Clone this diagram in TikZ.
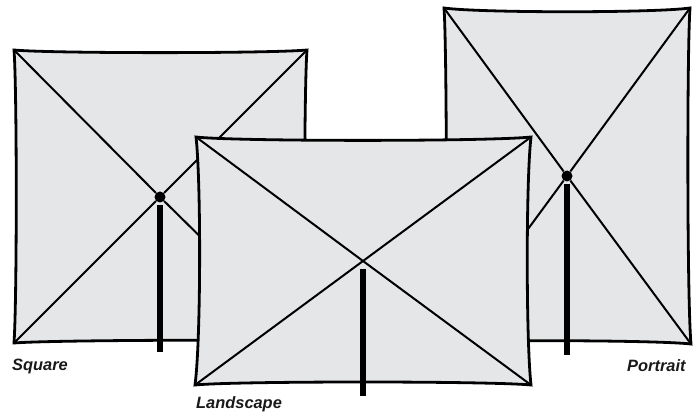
\documentclass[tikz,border=0pt]{standalone}
\usepackage{fontspec}
\setmainfont{Liberation Sans}
\definecolor{canvas}{HTML}{E5E6E8}
\begin{document}
\begin{tikzpicture}[
  x=1pt, y=-1pt,
  canopy/.style={draw=black, line width=2.8pt, fill=canvas, line join=miter},
  rib/.style={draw=black, line width=2pt},
  pole/.style={draw=black, line width=5.5pt},
  hub/.style={circle, fill=black, inner sep=0pt, minimum size=11pt},
  lbl/.style={font=\fontsize{16.4}{18}\selectfont\bfseries\itshape, text=black!90, anchor=base west, inner sep=0pt},
]
\useasboundingbox (0,0) rectangle (699,414);

% Square
\coordinate (s1) at (14,50);
\coordinate (s2) at (307,50);
\coordinate (s3) at (306,341);
\coordinate (s4) at (14,343);
\coordinate (stop) at (160,205);
\coordinate (sfoot) at (160,352);
\draw[canopy] (s1) .. controls (50,53.5) and (270,53.5) .. (s2)
  .. controls (304,90) and (304,300) .. (s3)
  .. controls (270,339.5) and (50,340) .. (s4)
  .. controls (17,300) and (17,90) .. cycle;
\node[hub] (shub) at (160,197) {};
\draw[rib] (s1) -- (shub);
\draw[rib] (s2) -- (shub);
\draw[rib] (s3) -- (shub);
\draw[rib] (s4) -- (shub);
\draw[pole] (stop) -- (sfoot);
\node[lbl] (slbl) at (12,370) {Square};

% Portrait
\coordinate (p1) at (444,8);
\coordinate (p2) at (690,8);
\coordinate (p3) at (691,344);
\coordinate (p4) at (445,342);
\coordinate (ptop) at (567,184);
\coordinate (pfoot) at (567,355);
\draw[canopy] (p1) .. controls (480,13) and (655,13) .. (p2)
  .. controls (687,50) and (687,300) .. (p3)
  .. controls (655,340) and (480,340) .. (p4)
  .. controls (447,300) and (447,50) .. cycle;
\node[hub] (phub) at (567,176) {};
\draw[rib] (p1) -- (phub);
\draw[rib] (p2) -- (phub);
\draw[rib] (p3) -- (phub);
\draw[rib] (p4) -- (phub);
\draw[pole] (ptop) -- (pfoot);
\node[lbl] (plbl) at (627,371) {Portrait};

% Landscape
\coordinate (l1) at (196,137);
\coordinate (l2) at (531,137);
\coordinate (l3) at (531,385);
\coordinate (l4) at (195,385);
\coordinate (lhub) at (363,261);
\coordinate (ltop) at (363,269);
\coordinate (lfoot) at (363,396);
\draw[canopy] (l1) .. controls (235,141.5) and (490,141.5) .. (l2)
  .. controls (526,180) and (526,340) .. (l3)
  .. controls (490,381) and (235,381) .. (l4)
  .. controls (201,340) and (201,180) .. cycle;
\draw[rib] (l1) -- (lhub);
\draw[rib] (l2) -- (lhub);
\draw[rib] (l3) -- (lhub);
\draw[rib] (l4) -- (lhub);
\draw[pole] (ltop) -- (lfoot);
\node[lbl] (llbl) at (196,408) {Landscape};
\end{tikzpicture}
\end{document}
